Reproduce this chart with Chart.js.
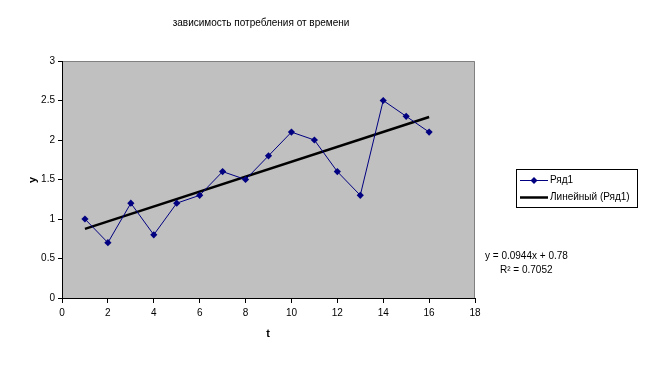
<!DOCTYPE html>
<html>
<head>
<meta charset="utf-8">
<script src="https://cdn.jsdelivr.net/npm/chart.js@4"></script>
<style>
  html, body { margin: 0; padding: 0; background: #fff; }
  #wrap { width: 649px; height: 381px; }
</style>
</head>
<body>
<div id="wrap"><canvas id="chart" width="649" height="381"></canvas></div>
<script>
const tValues = [1, 2, 3, 4, 5, 6, 7, 8, 9, 10, 11, 12, 13, 14, 15, 16];
const yValues = [1.0, 0.7, 1.2, 0.8, 1.2, 1.3, 1.6, 1.5, 1.8, 2.1, 2.0, 1.6, 1.3, 2.5, 2.3, 2.1];
const trendCoef = [0.0944, 0.78]; // slope, intercept as shown on chart
const trendRange = [1, 16];
const seriesNames = ['Ряд1', 'Линейный (Ряд1)'];
const titleText = 'зависимость потребления от времени';
const eqLines = ['y = 0.0944x + 0.78', 'R² = 0.7052'];

const FONT = '"Liberation Sans", Arial, sans-serif';

const points = tValues.map((t, i) => ({ x: t, y: yValues[i] }));
const trend = trendRange.map(t => ({ x: t, y: trendCoef[0] * t + trendCoef[1] }));

const decor = {
  id: 'decor',
  beforeDatasetsDraw(chart) {
    const { ctx, chartArea: a } = chart;
    ctx.save();
    ctx.fillStyle = '#c0c0c0';
    ctx.fillRect(a.left, a.top, a.right - a.left, a.bottom - a.top);
    ctx.strokeStyle = '#808080';
    ctx.lineWidth = 1;
    ctx.beginPath();
    ctx.moveTo(a.left, a.top + 0.5);
    ctx.lineTo(a.right - 0.5, a.top + 0.5);
    ctx.lineTo(a.right - 0.5, a.bottom);
    ctx.stroke();
    // axis lines
    ctx.strokeStyle = '#000';
    ctx.beginPath();
    ctx.moveTo(a.left + 0.5, a.top);
    ctx.lineTo(a.left + 0.5, a.bottom + 0.5);
    ctx.lineTo(a.right, a.bottom + 0.5);
    ctx.stroke();
    ctx.restore();
  },
  afterDraw(chart) {
    const { ctx } = chart;
    ctx.save();
    ctx.fillStyle = '#000';
    ctx.textBaseline = 'middle';
    ctx.textAlign = 'center';
    ctx.font = '10px ' + FONT;
    ctx.fillText(titleText, 261, 23);
    ctx.font = 'bold 11px ' + FONT;
    ctx.fillText('t', 268, 334);
    ctx.save();
    ctx.translate(33, 180);
    ctx.rotate(-Math.PI / 2);
    ctx.fillText('y', 0, 0);
    ctx.restore();

    // legend
    ctx.strokeStyle = '#000';
    ctx.lineWidth = 1;
    ctx.strokeRect(516.5, 169.5, 121, 38);
    ctx.font = '10px ' + FONT;
    ctx.textAlign = 'left';
    ctx.strokeStyle = '#000080';
    ctx.beginPath();
    ctx.moveTo(520, 180.5);
    ctx.lineTo(548, 180.5);
    ctx.stroke();
    ctx.fillStyle = '#000080';
    ctx.beginPath();
    ctx.moveTo(534, 177);
    ctx.lineTo(537.5, 180.5);
    ctx.lineTo(534, 184);
    ctx.lineTo(530.5, 180.5);
    ctx.closePath();
    ctx.fill();
    ctx.strokeStyle = '#000';
    ctx.lineWidth = 2.5;
    ctx.beginPath();
    ctx.moveTo(520, 197.5);
    ctx.lineTo(548, 197.5);
    ctx.stroke();
    ctx.fillStyle = '#000';
    ctx.fillText(seriesNames[0], 550, 180);
    ctx.fillText(seriesNames[1], 550, 197);

    // trendline equation
    ctx.fillText(eqLines[0], 485, 256);
    ctx.fillText(eqLines[1], 500, 270);
    ctx.restore();
  }
};

new Chart(document.getElementById('chart'), {
  type: 'scatter',
  data: {
    datasets: [
      {
        label: seriesNames[0],
        data: points,
        showLine: true,
        borderColor: '#000080',
        borderWidth: 1,
        backgroundColor: '#000080',
        pointStyle: 'rectRot',
        pointRadius: 3.6,
        pointBorderWidth: 0,
        pointHoverRadius: 3.6
      },
      {
        label: seriesNames[1],
        data: trend,
        showLine: true,
        borderColor: '#000',
        borderWidth: 2.5,
        pointRadius: 0
      }
    ]
  },
  options: {
    responsive: false,
    animation: false,
    layout: { padding: { left: 0, right: 174, top: 61, bottom: 0 } },
    plugins: { legend: { display: false }, title: { display: false }, tooltip: { enabled: false } },
    scales: {
      x: {
        type: 'linear',
        min: 0, max: 18,
        afterFit: s => { s.height = 83; },
        border: { display: false },
        grid: { drawOnChartArea: false, tickLength: 5, color: '#000' },
        ticks: { stepSize: 2, padding: 4, color: '#000', font: { family: FONT, size: 10 } }
      },
      y: {
        min: 0, max: 3,
        afterFit: s => { s.width = 62; },
        border: { display: false },
        grid: { drawOnChartArea: false, tickLength: 4, color: '#000' },
        ticks: { stepSize: 0.5, padding: 3, color: '#000', font: { family: FONT, size: 10 },
                 callback: v => String(v) }
      }
    }
  },
  plugins: [decor]
});
</script>
</body>
</html>
